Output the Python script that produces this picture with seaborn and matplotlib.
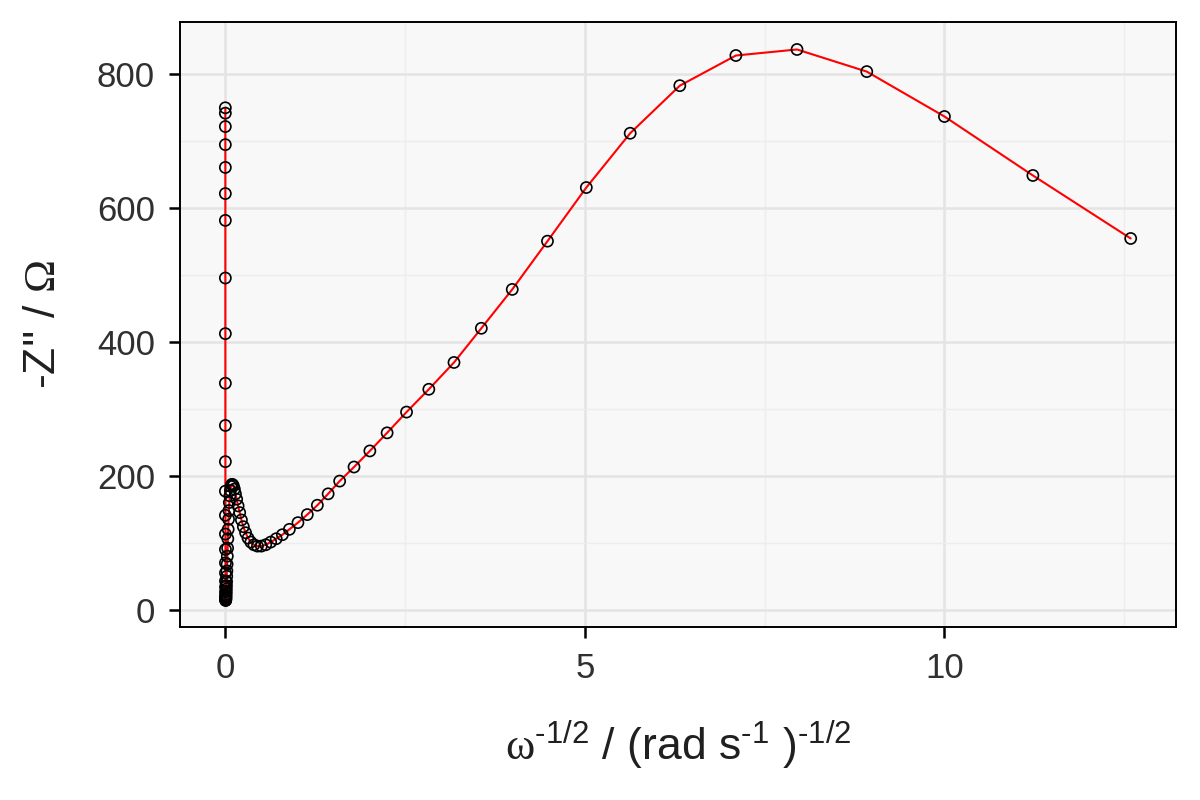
import seaborn as sns
import matplotlib.pyplot as plt
import pandas as pd

# omega^-1/2 (rad s^-1)^-1/2, from low to high frequency
omega_inv_sqrt = [
    12.59, 11.23, 10.0, 8.92, 7.95, 7.10, 6.32, 5.63, 5.02, 4.48,
    3.99, 3.56, 3.18, 2.83, 2.52, 2.25, 2.01, 1.79, 1.59, 1.43,
    1.28, 1.14, 1.01, 0.891, 0.794, 0.708, 0.631, 0.562, 0.501, 0.447,
    0.398, 0.355, 0.316, 0.282, 0.251, 0.224, 0.200, 0.178, 0.158, 0.141,
    0.126, 0.112, 0.100, 0.089, 0.079, 0.071, 0.063, 0.056, 0.050, 0.045,
    0.040, 0.035, 0.032, 0.028, 0.025, 0.022, 0.020, 0.018, 0.016, 0.014,
    0.0126, 0.0112, 0.010, 0.0089, 0.0079, 0.0071, 0.0063, 0.0056, 0.0050, 0.0045,
    0.0040, 0.0035, 0.0032, 0.0028, 0.0025, 0.0022, 0.0020, 0.0018, 0.0016, 0.0014,
    0.00126, 0.00112, 0.0010, 0.00089, 0.00079, 0.00071, 0.00063, 0.00056, 0.00050, 0.00045,
    0.00040, 0.00035, 0.00032,
]

# -Z'' in ohm
neg_z_imag = [
    554, 648, 736, 803, 836, 827, 782, 711, 630, 550,
    478, 420, 369, 329, 295, 264, 237, 213, 192, 173,
    156, 142, 130, 120, 112, 106, 101, 97, 95, 95,
    97, 101, 107, 115, 124, 134, 145, 155, 165, 173,
    180, 185, 187, 187, 184, 178, 170, 160, 148, 135,
    120, 106, 92, 80, 68, 58, 50, 42, 36, 31,
    27, 24, 21, 19, 17, 16, 15, 14, 14, 16,
    18, 22, 27, 34, 43, 55, 70, 90, 113, 141,
    177, 221, 275, 338, 412, 495, 581, 621, 660, 694,
    721, 741, 749,
]

df = pd.DataFrame({"x": omega_inv_sqrt, "y": neg_z_imag})

sns.set_theme(style="whitegrid")
plt.rcParams["font.family"] = ["Liberation Sans", "DejaVu Sans"]
plt.rcParams["mathtext.fontset"] = "custom"
plt.rcParams["mathtext.rm"] = "Liberation Sans"
plt.rcParams["mathtext.it"] = "Liberation Sans:italic"
plt.rcParams["mathtext.bf"] = "Liberation Sans:bold"
plt.rcParams["mathtext.sf"] = "Liberation Serif"  # used for the Greek letters

fig, ax = plt.subplots(figsize=(6, 4), dpi=200)
fig.subplots_adjust(left=0.15, right=0.98, top=0.9725, bottom=0.216)

sns.lineplot(data=df, x="x", y="y", sort=False, color="#FF0000", linewidth=0.75,
             ax=ax, zorder=3)
sns.scatterplot(data=df, x="x", y="y", s=16, facecolor="none", edgecolor="black",
                linewidth=0.6, ax=ax, zorder=4)

ax.set_facecolor("#F8F8F8")
ax.set_xlim(-0.63, 13.22)
ax.set_ylim(-26, 877)
ax.set_xticks([0, 5, 10])
ax.set_xticks([2.5, 7.5, 12.5], minor=True)
ax.set_yticks([0, 200, 400, 600, 800])
ax.set_yticks([100, 300, 500, 700], minor=True)
ax.grid(which="major", color="#E4E4E4", linewidth=0.9)
ax.grid(which="minor", color="#EDEDED", linewidth=0.5)
ax.set_axisbelow(True)

for side in ax.spines.values():
    side.set_edgecolor("black")
    side.set_linewidth(0.7)

ax.tick_params(which="major", direction="out", length=4, width=0.9, color="black",
               labelsize=12.5, labelcolor="#303030", bottom=True, left=True, pad=5)
ax.tick_params(which="minor", length=0)

# serif Greek letters, plain hyphens in the exponents as in the original
ax.set_xlabel(r"$\mathsf{\omega}^{\text{-1/2}}$ / (rad s$^{\text{-1}}$ )$^{\text{-1/2}}$",
              fontsize=16, color="#202020", labelpad=12)
ax.set_ylabel(r"-Z'' / $\mathsf{\Omega}$", fontsize=16, color="#202020", labelpad=12)

fig.savefig("out.png", dpi=200)
